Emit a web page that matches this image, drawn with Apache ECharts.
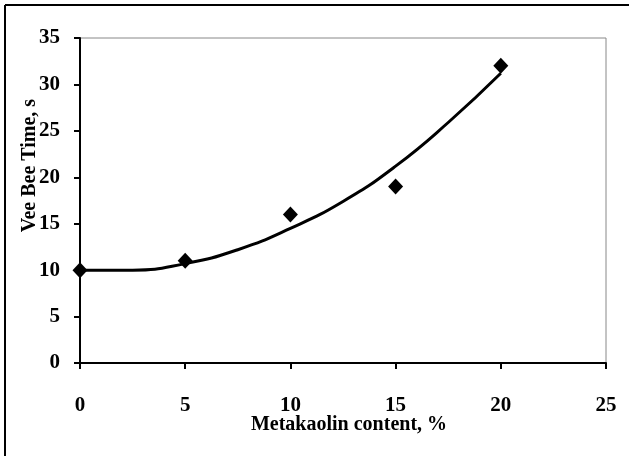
<!DOCTYPE html>
<html>
<head>
<meta charset="utf-8">
<script src="https://cdn.jsdelivr.net/npm/echarts@6/dist/echarts.min.js"></script>
<style>
  html, body { margin: 0; padding: 0; background: #fff; }
  #chart { width: 629px; height: 456px; }
</style>
</head>
<body>
<div id="chart"></div>
<script>
// measured points
const metakaolin = [0, 5, 10, 15, 20];
const veeBee = [10, 11, 16, 19, 32];

// trend curve
const trendX = [0, 2.5, 5, 7.5, 10, 12.5, 15, 17.5, 20];
const trendY = [10.0, 10.0, 10.7, 12.2, 14.5, 17.4, 21.2, 25.9, 31.2];

const xTicks = [0, 5, 10, 15, 20, 25];
const yTicks = [0, 5, 10, 15, 20, 25, 30, 35];

const font = "'Liberation Serif', 'Times New Roman', serif";

const chart = echarts.init(document.getElementById("chart"));

chart.setOption({
  animation: false,
  backgroundColor: "#fff",
  graphic: [
    { type: "line", shape: { x1: 5, y1: 5, x2: 629, y2: 5 }, style: { stroke: "#000", lineWidth: 2 } },
    { type: "line", shape: { x1: 5, y1: 5, x2: 5, y2: 456 }, style: { stroke: "#000", lineWidth: 2 } },
    // gray frame on top / right of plot area
    { type: "polyline", shape: { points: [[80, 38], [606, 38], [606, 363]] }, style: { stroke: "#888", lineWidth: 1, fill: null } }
  ],
  grid: { left: 80, right: 23, top: 38, bottom: 93, containLabel: false, outerBoundsMode: "none" },
  xAxis: {
    type: "value",
    min: xTicks[0],
    max: xTicks[xTicks.length - 1],
    interval: 5,
    name: "Metakaolin content, %",
    nameLocation: "middle",
    nameGap: 52,
    nameMoveOverlap: false,
    nameTextStyle: { fontFamily: font, fontWeight: "bold", fontSize: 20, color: "#000", padding: [0, 0, 0, 12] },
    axisLine: { show: true, lineStyle: { color: "#000", width: 2 } },
    axisTick: { show: true, length: 6, lineStyle: { color: "#000", width: 2 } },
    axisLabel: { fontFamily: font, fontWeight: "bold", fontSize: 21, color: "#000", margin: 32 },
    splitLine: { show: false }
  },
  yAxis: {
    type: "value",
    min: yTicks[0],
    max: yTicks[yTicks.length - 1],
    interval: 5,
    name: "Vee Bee Time, s",
    nameLocation: "middle",
    nameGap: 40,
    nameMoveOverlap: false,
    nameRotate: 90,
    nameTextStyle: { fontFamily: font, fontWeight: "bold", fontSize: 20, color: "#000", padding: [0, 0, 0, 70] },
    axisLine: { show: true, lineStyle: { color: "#000", width: 2 } },
    axisTick: { show: true, length: 6, lineStyle: { color: "#000", width: 2 } },
    axisLabel: { fontFamily: font, fontWeight: "bold", fontSize: 21, color: "#000", margin: 20 },
    splitLine: { show: false }
  },
  series: [
    {
      type: "line",
      data: trendX.map((x, i) => [x, trendY[i]]),
      smooth: true,
      showSymbol: false,
      lineStyle: { color: "#000", width: 3 },
      z: 2
    },
    {
      type: "scatter",
      data: metakaolin.map((x, i) => [x, veeBee[i]]),
      symbol: "diamond",
      symbolSize: [15, 16],
      itemStyle: { color: "#000", opacity: 1 },
      z: 3
    }
  ]
});
</script>
</body>
</html>
